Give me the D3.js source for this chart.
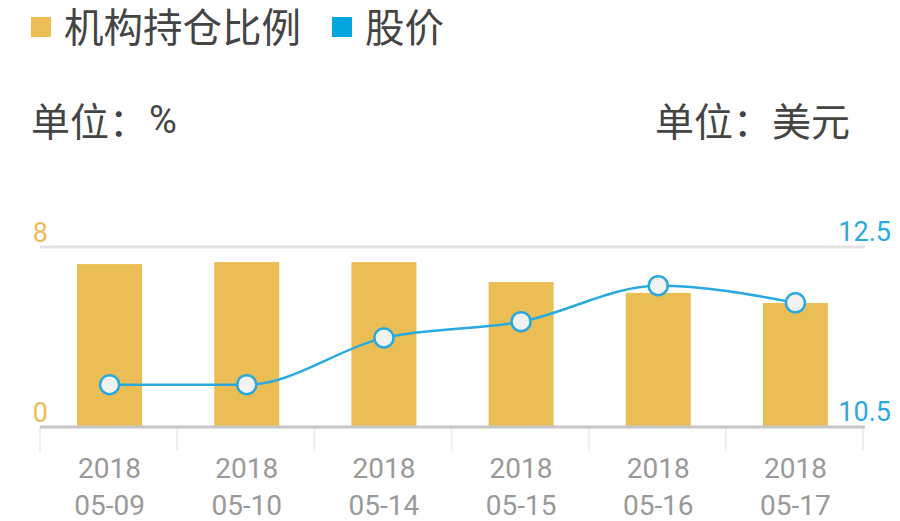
<!DOCTYPE html>
<html><head><meta charset="utf-8">
<script src="https://cdn.jsdelivr.net/npm/d3@7"></script>
<style>
body{margin:0;background:#fff;}
svg{display:block;}
</style></head>
<body>
<svg id="c" width="900" height="521"></svg>
<script>
const categories = [["2018","05-09"],["2018","05-10"],["2018","05-14"],["2018","05-15"],["2018","05-16"],["2018","05-17"]];
const holdingRatio = [7.24, 7.33, 7.33, 6.44, 5.96, 5.51];
const stockPrice = [10.97, 10.97, 11.49, 11.67, 12.07, 11.88];
const leftTicks = [0, 8];
const rightTicks = [10.5, 12.5];
const legendNames = ["机构持仓比例", "股价"];
const unitLeft = ["单位：", "%"];
const unitRight = "单位：美元";

const barColor = "#ebbd55", lineColor = "#2aa9df", legendBlue = "#00a6dd";
const cjk = "'Noto Sans CJK SC', 'Noto Sans', sans-serif";
const num = "Roboto, 'Noto Sans', sans-serif";

const svg = d3.select("#c");
const pLeft = 40, pRight = 863, pTop = 247, pBottom = 427;

const x = d3.scaleBand().domain(categories.map((d,i)=>i)).range([pLeft,pRight]).paddingInner(0).paddingOuter(0);
const yL = d3.scaleLinear().domain([0,8]).range([pBottom, pTop]);
const yR = d3.scaleLinear().domain([10.5,12.5]).range([pBottom, pTop]);
const cx = i => x(i)+x.bandwidth()/2+1;

// Legend
const lg = svg.append("g");
lg.append("rect").attr("x",31).attr("y",17).attr("width",20).attr("height",20).attr("fill",barColor);
lg.append("text").attr("x",64).attr("y",42).attr("font-family",cjk).attr("font-size",39.5).attr("fill","#444").text(legendNames[0]);
lg.append("rect").attr("x",332).attr("y",17).attr("width",20).attr("height",20).attr("fill",legendBlue);
lg.append("text").attr("x",365).attr("y",42).attr("font-family",cjk).attr("font-size",39.5).attr("fill","#444").text(legendNames[1]);

// Units
const ul = svg.append("text").attr("x",31).attr("y",136).attr("font-family",cjk).attr("font-size",39).attr("fill","#444");
ul.append("tspan").text(unitLeft[0]);
ul.append("tspan").attr("font-family",num).attr("font-size",38).attr("dx",1).attr("dy",-3).text(unitLeft[1]);
svg.append("text").attr("x",850).attr("y",136).attr("text-anchor","end").attr("font-family",cjk).attr("font-size",39).attr("fill","#444").text(unitRight);

// Grid top line
svg.append("line").attr("x1",pLeft).attr("x2",pRight+2).attr("y1",yL(8)).attr("y2",yL(8)).attr("stroke","#e3e3e3").attr("stroke-width",3);

// x ticks (band boundaries)
const bounds = categories.map((d,i)=>x(i)).concat([pRight]);
svg.append("g").selectAll("line").data(bounds).join("line")
  .attr("x1",d=>d).attr("x2",d=>d).attr("y1",pBottom).attr("y2",pBottom+24)
  .attr("stroke","#eeeeee").attr("stroke-width",2);

// Bars
const bw = 65;
svg.append("g").selectAll("rect").data(holdingRatio).join("rect")
  .attr("x",(d,i)=>cx(i)-bw/2)
  .attr("width",bw)
  .attr("y",d=>yL(d))
  .attr("height",d=>pBottom-yL(d))
  .attr("fill",barColor);

// Axis line
svg.append("line").attr("x1",pLeft).attr("x2",pRight+2).attr("y1",pBottom).attr("y2",pBottom).attr("stroke","#c6c6c6").attr("stroke-width",3);

// Left ticks
svg.append("g").selectAll("text").data(leftTicks).join("text")
  .attr("x",48).attr("y",d=>yL(d)-5).attr("text-anchor","end")
  .attr("font-family",num).attr("font-size",27).attr("fill",barColor).text(d=>d);
// Right ticks
svg.append("g").selectAll("text").data(rightTicks).join("text")
  .attr("x",891).attr("y",d=>yR(d)-6).attr("text-anchor","end")
  .attr("font-family",num).attr("font-size",27).attr("fill",lineColor).text(d=>d.toFixed(1));

// x labels
const xl = svg.append("g").selectAll("text").data(categories).join("text")
  .attr("text-anchor","middle")
  .attr("font-family",num).attr("font-size",28).attr("fill","#999");
xl.append("tspan").attr("x",(d,i)=>cx(i)).attr("y",478).text(d=>d[0]);
xl.append("tspan").attr("x",(d,i)=>cx(i)).attr("y",515).text(d=>d[1]);

// Line
const line = d3.line().x((d,i)=>cx(i)).y(d=>yR(d)).curve(d3.curveMonotoneX);
svg.append("path").datum(stockPrice).attr("d",line).attr("fill","none").attr("stroke",lineColor).attr("stroke-width",2.5);
svg.append("g").selectAll("circle").data(stockPrice).join("circle")
  .attr("cx",(d,i)=>cx(i)).attr("cy",d=>yR(d)).attr("r",9.5)
  .attr("fill","#f2f2f2").attr("stroke",lineColor).attr("stroke-width",2.5);
</script>
</body></html>
